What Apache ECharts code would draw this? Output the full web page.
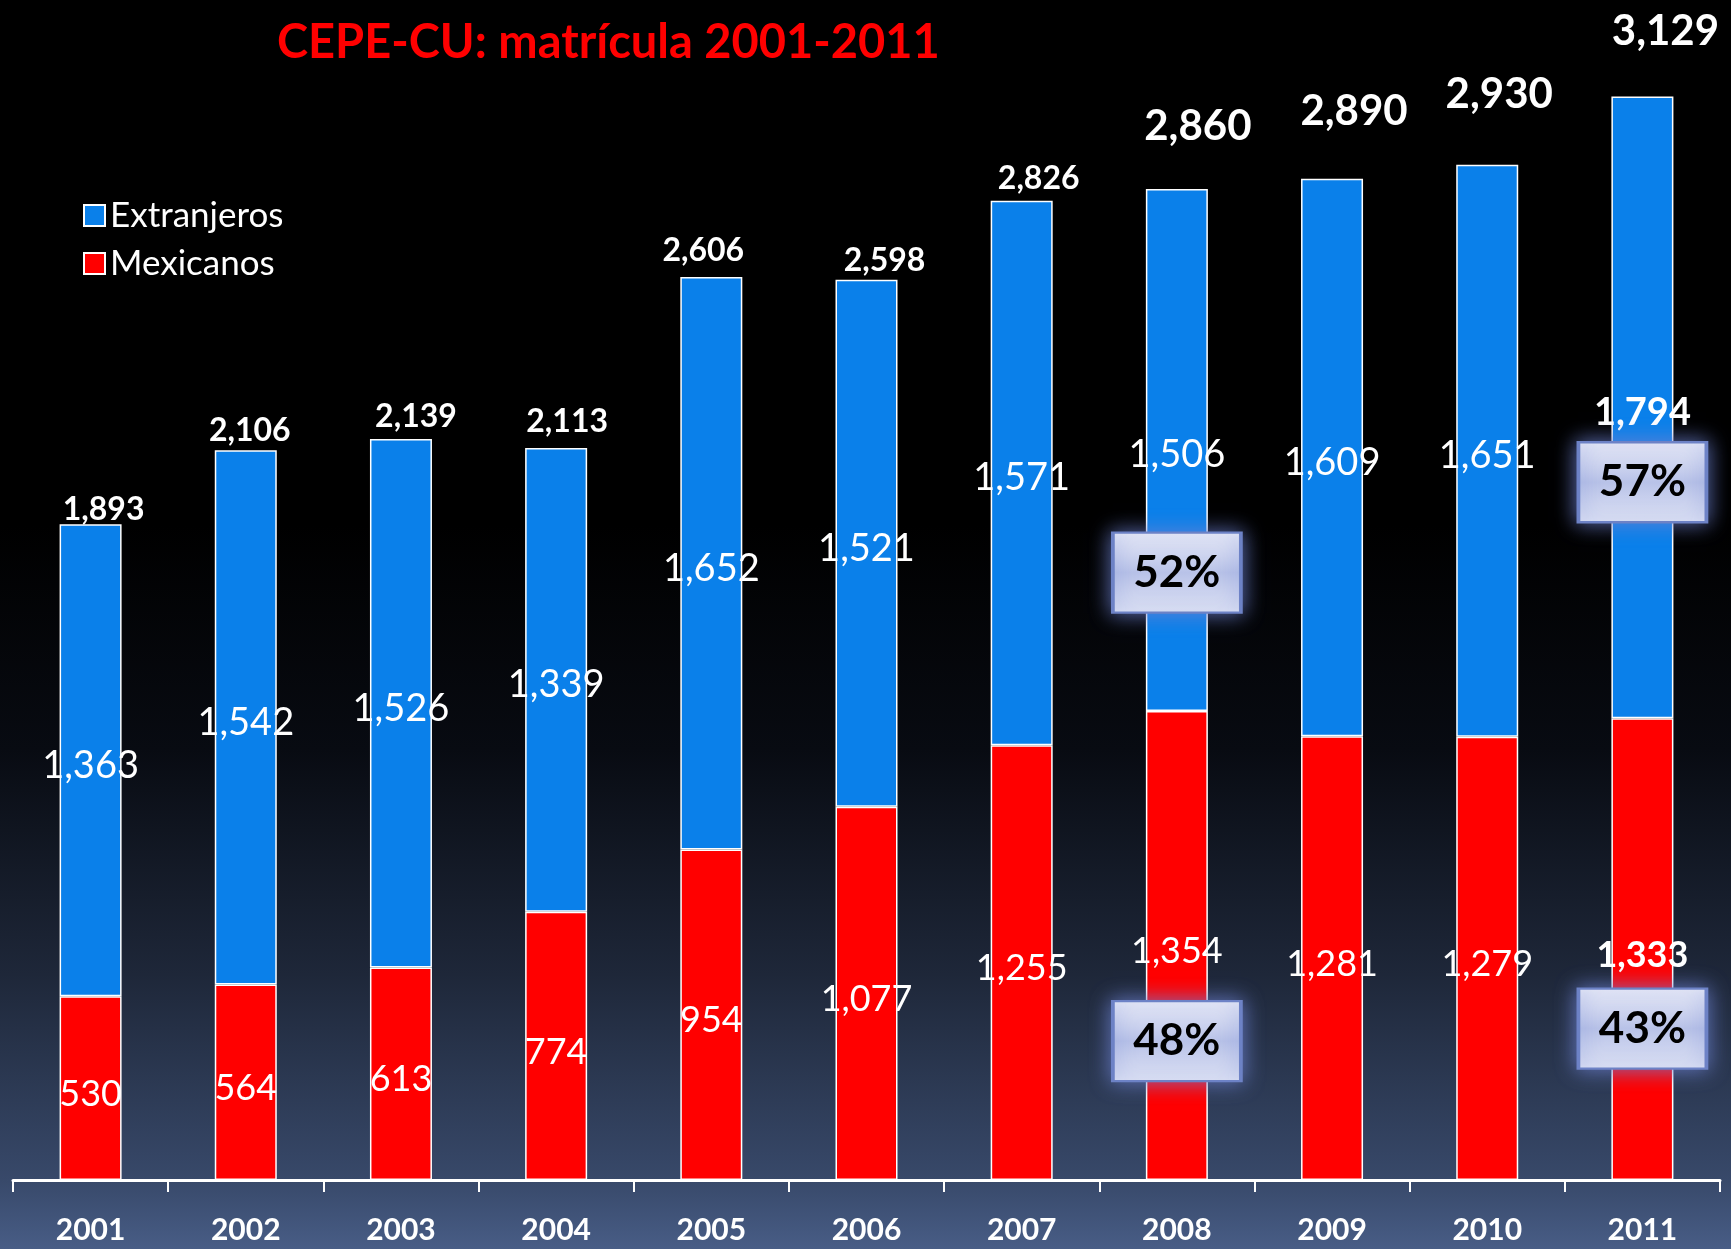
<!DOCTYPE html>
<html>
<head>
<meta charset="utf-8">
<script src="https://cdn.jsdelivr.net/npm/echarts@6/dist/echarts.min.js"></script>
<style>
  html, body { margin: 0; padding: 0; background: #000; }
  #chart { width: 1731px; height: 1249px; }
</style>
</head>
<body>
<div id="chart"></div>
<script>
const years = ['2001', '2002', '2003', '2004', '2005', '2006', '2007', '2008', '2009', '2010', '2011'];
const mexicanos = [530, 564, 613, 774, 954, 1077, 1255, 1354, 1281, 1279, 1333];
const extranjeros = [1363, 1542, 1526, 1339, 1652, 1521, 1571, 1506, 1609, 1651, 1794];
const totals = [1893, 2106, 2139, 2113, 2606, 2598, 2826, 2860, 2890, 2930, 3129];
const shareYears = ['2008', '2008', '2011', '2011'];
const shareLabels = ['52%', '48%', '57%', '43%'];

const fmt = v => v.toLocaleString('en-US');

// shift of the total labels above each bar, [dx, dy]
const totalShift = [[13, -14], [4, -20], [15, -22], [11, -26], [-8, -26], [18, -19], [17, -22],
                    [21, -63], [22, -67], [12, -70], [23, -64]];
// where the share boxes sit on the value axis
const shareAt = [1753, 401, 2014, 437];

const chart = echarts.init(document.getElementById('chart'));

const option = {
  backgroundColor: new echarts.graphic.LinearGradient(0, 0, 0, 1, [
    { offset: 0, color: '#000000' },
    { offset: 0.42, color: '#000000' },
    { offset: 0.6, color: '#080b12' },
    { offset: 0.78, color: '#1e2739' },
    { offset: 0.945, color: '#38496a' },
    { offset: 1, color: '#485d86' }
  ]),
  animation: false,
  title: {
    text: 'CEPE-CU: matrícula 2001-2011',
    left: 272,
    top: 14,
    textStyle: { color: '#ff0000', fontFamily: 'Lato', fontWeight: 'bold', fontSize: 47 }
  },
  legend: {
    data: ['Extranjeros', 'Mexicanos'],
    orient: 'vertical',
    left: 78,
    top: 193,
    itemWidth: 21,
    itemHeight: 21,
    itemGap: 13,
    icon: 'rect',
    itemStyle: { borderColor: '#ffffff', borderWidth: 2 },
    textStyle: { color: '#ffffff', fontFamily: 'Lato', fontSize: 35 }
  },
  grid: { left: 13, right: 11, top: 2, bottom: 69, containLabel: false },
  xAxis: {
    type: 'category',
    data: years,
    axisLine: { lineStyle: { color: '#ffffff', width: 3 } },
    axisTick: { show: true, length: 12, lineStyle: { color: '#ffffff', width: 2 } },
    axisLabel: { color: '#ffffff', fontFamily: 'Lato', fontWeight: 'bold', fontSize: 30, margin: 35 }
  },
  yAxis: {
    type: 'value',
    min: 0,
    max: 3400,
    show: false,
    splitLine: { show: false }
  },
  series: [
    {
      name: 'Mexicanos',
      type: 'bar',
      stack: 'total',
      barWidth: 62,
      data: mexicanos.map((v, i) => ({
        value: v,
        label: { fontWeight: i === 10 ? 'bold' : 'normal' }
      })),
      itemStyle: { color: '#ff0000', borderColor: '#ffffff', borderWidth: 1.5 },
      label: {
        show: true,
        position: 'inside',
        offset: [0, 6],
        color: '#ffffff',
        textBorderWidth: 0,
        fontFamily: 'Lato',
        fontSize: 36,
        formatter: p => fmt(p.value)
      }
    },
    {
      name: 'Extranjeros',
      type: 'bar',
      stack: 'total',
      barWidth: 62,
      data: extranjeros.map((v, i) => ({
        value: v,
        label: { fontWeight: i === 10 ? 'bold' : 'normal' }
      })),
      itemStyle: { color: '#0a80ea', borderColor: '#ffffff', borderWidth: 1.5 },
      label: {
        show: true,
        position: 'inside',
        offset: [0, 5],
        color: '#ffffff',
        textBorderWidth: 0,
        fontFamily: 'Lato',
        fontSize: 38,
        formatter: p => fmt(p.value)
      },
      markPoint: {
        symbol: 'rect',
        symbolSize: [128, 80],
        silent: true,
        itemStyle: {
          color: new echarts.graphic.LinearGradient(0, 0, 0, 1, [
            { offset: 0, color: '#eceef9' },
            { offset: 0.5, color: '#b8c2e8' },
            { offset: 1, color: '#e2e6f6' }
          ]),
          borderColor: '#6d82c6',
          borderWidth: 3,
          shadowBlur: 20,
          shadowColor: 'rgba(110,130,210,0.85)'
        },
        label: {
          show: true,
          position: 'inside',
          color: '#000000',
          textBorderWidth: 0,
          fontFamily: 'Lato',
          fontWeight: 'bold',
          fontSize: 44,
          formatter: p => p.name
        },
        data: shareLabels.map((t, i) => ({ name: t, coord: [shareYears[i], shareAt[i]] }))
      }
    },
    {
      name: 'Total',
      type: 'scatter',
      symbolSize: 1,
      silent: true,
      itemStyle: { color: 'rgba(0,0,0,0)', opacity: 1 },
      z: 5,
      data: totals.map((v, i) => ({
        value: v,
        label: {
          offset: totalShift[i],
          fontSize: i >= 7 ? 42 : 32
        }
      })),
      label: {
        show: true,
        position: 'inside',
        color: '#ffffff',
        textBorderWidth: 0,
        fontFamily: 'Lato',
        fontWeight: 'bold',
        formatter: p => fmt(p.value)
      }
    }
  ]
};

chart.setOption(option);
</script>
</body>
</html>
